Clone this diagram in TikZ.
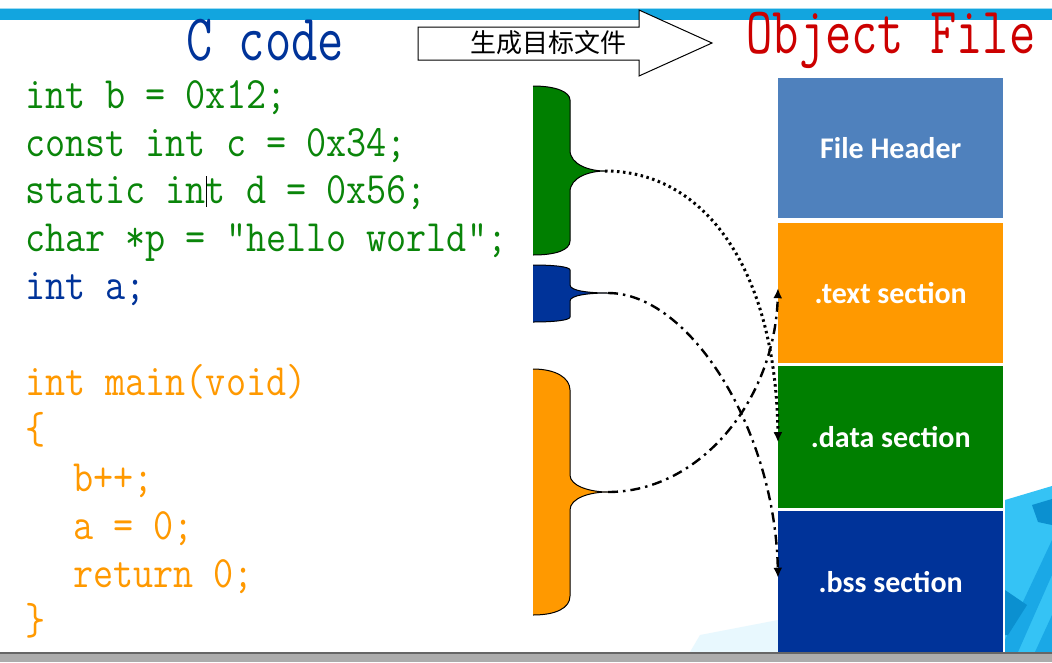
\documentclass[tikz,border=0pt]{standalone}
\usepackage{fontspec}
\usetikzlibrary{arrows.meta}
\newfontfamily\cjk{Noto Sans CJK SC}
\newfontfamily\calib{Carlito}
\definecolor{cgreen}{HTML}{0A850A}
\definecolor{cblue}{HTML}{003399}
\definecolor{corange}{HTML}{FF9900}
\definecolor{hdrblue}{HTML}{4F81BD}
\definecolor{secgreen}{HTML}{007F00}
\definecolor{secblue}{HTML}{003399}
\definecolor{barcyan}{HTML}{12A5DF}
\definecolor{titlered}{HTML}{CC0000}
\definecolor{decocyan}{HTML}{35C3F5}
\definecolor{decodark}{HTML}{0B90D0}
\definecolor{decomid}{HTML}{1AA8E6}
\newcommand{\codetxt}[1]{\scalebox{1}[1.15]{\fontsize{39}{42}\selectfont\ttfamily #1}}
\newcommand{\titletxt}[1]{\scalebox{1}[1.3]{\fontsize{51}{55}\selectfont\ttfamily #1}}
\begin{document}
\begin{tikzpicture}[x=1pt,y=-1pt,
  code/.style={anchor=base west,inner sep=0pt},
  sect/.style={rectangle,minimum width=225pt,inner sep=0pt,text=white,font=\calib\bfseries\fontsize{30}{32}\selectfont},
  brace/.style={draw=black,line width=1pt},
  conn/.style={line width=2.4pt,-{Latex[length=10pt,width=9pt]}},
  dashdot/.style={dash pattern=on 10pt off 5pt on 2.5pt off 5pt},
  dots/.style={line width=3pt,dash pattern=on 2.5pt off 3.5pt}
]
\useasboundingbox (0,0) rectangle (1052,662);
\fill[white] (0,0) rectangle (1052,662);
% top bar
\fill[barcyan] (0,9) rectangle (1052,20);
\fill[barcyan!40] (0,8) rectangle (1052,9);
% background decoration
\fill[cyan!5] (940,590) -- (1003,575) -- (1003,652) -- (1000,652) -- cycle;
\fill[cyan!9] (690,652) -- (700,635) -- (778,620) -- (778,652) -- cycle;
\fill[decocyan] (1005,500) -- (1052,486) -- (1052,652) -- (1005,652) -- cycle;
\fill[decodark] (1032,505) -- (1052,499) -- (1052,525) -- (1038,522) -- cycle;
\fill[decomid] (1005,640) -- (1052,540) -- (1052,575) -- (1018,652) -- (1005,652) -- cycle;
\fill[decodark] (1005,590) -- (1027,605) -- (1008,635) -- (1005,635) -- cycle;
\fill[decomid] (1035,652) -- (1052,615) -- (1052,652) -- cycle;
% bottom bar
\fill[gray!65] (0,652) rectangle (1052,662);
\fill[gray!120] (0,651.5) rectangle (1052,653.5);
% titles
\node[anchor=center,text=cblue] (ttl1) at (265,40) {\titletxt{C code}};
\node[anchor=center,text=titlered] (ttl2) at (891,40) {\titletxt{Object File}};
% block arrow
\filldraw[fill=white,draw=black,line width=1pt] (418,27) -- (639,27) -- (639,10) -- (712,43) -- (639,76) -- (639,60) -- (418,60) -- cycle;
\node[font=\cjk\fontsize{26}{28}\selectfont,inner sep=0pt] (gentxt) at (548,43) {生成目标文件};
% code lines
\node[code,text=cgreen] (l1) at (25,108) {\codetxt{int b = 0x12;}};
\node[code,text=cgreen] (l2) at (25,156) {\codetxt{const int c = 0x34;}};
\node[code,text=cgreen] (l3) at (25,203) {\codetxt{static int d = 0x56;}};
\node[code,text=cgreen] (l4) at (25,251) {\codetxt{char *p = ”hello world”;}};
\node[code,text=cblue] (l5) at (25,299) {\codetxt{int a;}};
\node[code,text=corange] (l6) at (25,395) {\codetxt{int main(void)}};
\node[code,text=corange] (l7) at (25,443) {\codetxt{\{}};
\node[code,text=corange] (l8) at (73,491) {\codetxt{b++;}};
\node[code,text=corange] (l9) at (73,539) {\codetxt{a = 0;}};
\node[code,text=corange] (l10) at (73,587) {\codetxt{return 0;}};
\node[code,text=corange] (l11) at (25,634) {\codetxt{\}}};
% text cursor
\draw[black,line width=0.8pt] (206,176) -- (206,207);
% sections
\node[sect,fill=hdrblue,minimum height=140pt,anchor=north west] (hdr) at (778,78) {File Header};
\node[sect,fill=corange,minimum height=140pt,anchor=north west] (text) at (778,223) {.text section};
\node[sect,fill=secgreen,minimum height=142pt,anchor=north west] (data) at (778,366) {.data section};
\node[sect,fill=secblue,minimum height=141pt,anchor=north west] (bss) at (778,511) {.bss section};
% braces
\fill[secgreen] (533,86) .. controls (556,86) and (570,92) .. (570,100) -- (570,150) .. controls (570,165) and (590,171) .. (605,171) .. controls (590,171) and (570,177) .. (570,192) -- (570,241) .. controls (570,250) and (556,255) .. (533,255) -- cycle;
\draw[brace] (533,86) .. controls (556,86) and (570,92) .. (570,100) -- (570,150) .. controls (570,165) and (590,171) .. (605,171) .. controls (590,171) and (570,177) .. (570,192) -- (570,241) .. controls (570,250) and (556,255) .. (533,255);
\fill[cblue] (533,265) .. controls (556,265) and (570,267) .. (570,270) -- (570,285) .. controls (570,291) and (590,293) .. (608,293) .. controls (590,293) and (570,295) .. (570,301) -- (570,317) .. controls (570,320) and (556,322) .. (533,322) -- cycle;
\draw[brace] (533,265) .. controls (556,265) and (570,267) .. (570,270) -- (570,285) .. controls (570,291) and (590,293) .. (608,293) .. controls (590,293) and (570,295) .. (570,301) -- (570,317) .. controls (570,320) and (556,322) .. (533,322);
\fill[corange] (533,369) .. controls (556,369) and (570,378) .. (570,390) -- (570,475) .. controls (570,486) and (590,492) .. (608,492) .. controls (590,492) and (570,498) .. (570,510) -- (570,596) .. controls (570,608) and (556,615) .. (533,615) -- cycle;
\draw[brace] (533,369) .. controls (556,369) and (570,378) .. (570,390) -- (570,475) .. controls (570,486) and (590,492) .. (608,492) .. controls (590,492) and (570,498) .. (570,510) -- (570,596) .. controls (570,608) and (556,615) .. (533,615);
% brace tips
\coordinate (gtip) at (605,171);
\coordinate (btip) at (608,293);
\coordinate (otip) at (608,492);
% connectors
\draw[conn,dots] (gtip) .. controls (705,171) and (776,270) .. ([yshift=-5pt]data.west);
\draw[conn,dashdot] (btip) .. controls (690,293) and (775,430) .. ([yshift=4pt]bss.west);
\draw[conn,dashdot] (otip) .. controls (700,492) and (775,400) .. ([yshift=5pt]text.west);
\end{tikzpicture}
\end{document}
